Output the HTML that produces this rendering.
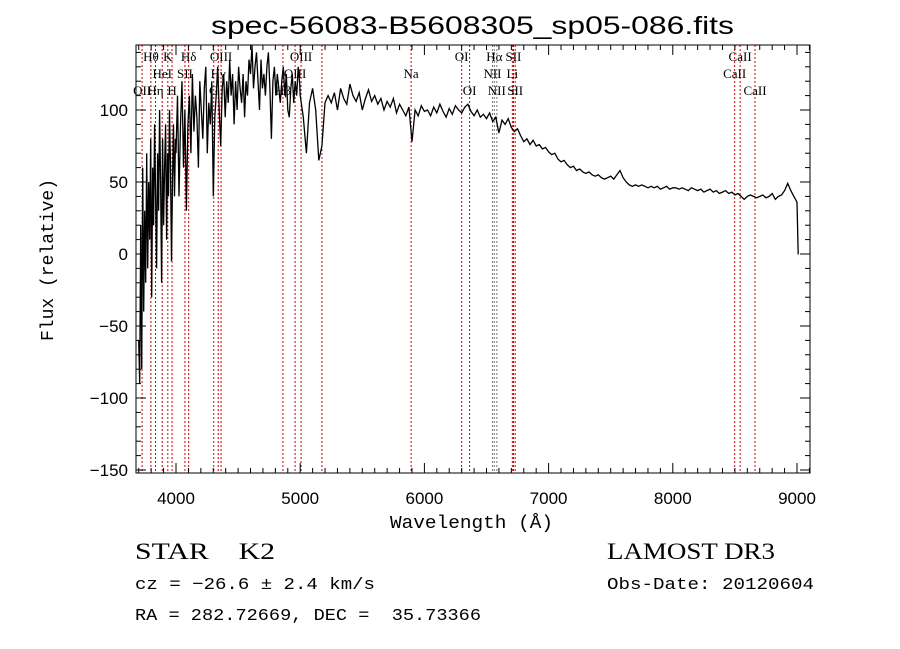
<!DOCTYPE html>
<html><head><meta charset="utf-8"><style>
html,body{margin:0;padding:0;background:#fff;width:900px;height:649px;overflow:hidden}
svg{display:block}
</style></head><body>
<svg id="chart" width="900" height="649" viewBox="0 0 900 649">
<text x="211" y="34" textLength="523" lengthAdjust="spacingAndGlyphs" font-family="Liberation Sans, sans-serif" font-size="25">spec-56083-B5608305_sp05-086.fits</text>
<g id="lines"></g>
<g id="labels" font-family="Liberation Serif, serif" font-size="13"></g>
<path id="spec" fill="none" stroke="#000" stroke-width="1.3"/>
<rect x="136" y="45" width="674" height="428" fill="none" stroke="#000" stroke-width="1"/>
<g id="ticks" stroke="#000" stroke-width="1"></g>
<g id="tlabels" font-family="Liberation Sans, sans-serif" font-size="17"></g>
<text x="390" y="528" textLength="163" lengthAdjust="spacingAndGlyphs" font-family="Liberation Mono, monospace" font-size="18">Wavelength (Å)</text>
<text transform="translate(53,260) rotate(-90)" text-anchor="middle" font-family="Liberation Mono, monospace" font-size="18">Flux (relative)</text>
<text x="135" y="559" textLength="140" lengthAdjust="spacingAndGlyphs" font-family="Liberation Serif, serif" font-size="23">STAR&#160;&#160;&#160;&#160;K2</text>
<text x="607" y="559" textLength="168" lengthAdjust="spacingAndGlyphs" font-family="Liberation Serif, serif" font-size="23">LAMOST DR3</text>
<text x="135" y="589" textLength="240" lengthAdjust="spacingAndGlyphs" font-family="Liberation Mono, monospace" font-size="17">cz = −26.6 ± 2.4 km/s</text>
<text x="607" y="589" textLength="207" lengthAdjust="spacingAndGlyphs" font-family="Liberation Mono, monospace" font-size="17">Obs-Date: 20120604</text>
<text x="135" y="620" textLength="346" lengthAdjust="spacingAndGlyphs" font-family="Liberation Mono, monospace" font-size="17" xml:space="preserve">RA = 282.72669, DEC =  35.73366</text>
</svg>
<script>
const segStarts=[3700,4000,5000,5225,6025,7025,8025];
const segSteps=[8,12,25,25,25,25,25];
const segFlux=[
[-60,-90,20,-80,60,-40,30,-20,70,-10,50,10,80,-30,60,20,90,40,-10,70,30,100,50,-20,80,20,60,90,10,70,40,100,60,-5,50,90,40,80],
[70,110,40,90,120,60,100,30,90,110,70,125,85,110,95,60,120,100,80,115,130,70,105,90,120,40,95,110,130,100,75,115,125,95,120,105,135,110,125,90,120,100,130,115,105,125,95,120,110,135,125,145,115,130,140,120,100,135,115,125,110,130,140,115,80,120,130,110,125,115,105,120,130,110,125,100,95,115,125,105,120,110,130,118],
[110,95,70,105,115,100,65,75,105],
[110,105,112,100,115,108,104,118,110,106,112,100,108,114,106,110,104,108,100,106,102,108,98,104,100,96,102,78,100,96,103,99],
[100,96,102,98,104,99,95,101,97,103,100,98,102,104,99,96,100,95,97,94,98,92,95,84,93,90,94,88,85,87,82,78,80,76,79,75,76,73,74,71],
[69,70,66,64,65,62,60,61,58,59,57,56,57,55,54,55,53,52,53,54,52,55,58,53,50,48,47,48,47,48,47,46,47,46,47,45,46,47,45,46],
[46,45,46,45,44,46,45,44,45,43,44,45,43,44,42,43,44,42,43,41,42,40,38,40,41,40,39,40,41,39,40,42,38,40,41,44,49,44,40,36]
];
const endWave=[9010,9012];
const endFlux=[0,0];
const lineWaves=[3727,3798,3835,3889,3934,3968,4072,4102,4304,4340,4363,4861,4959,5007,5175,5893,6300,6364,6548,6563,6583,6708,6717,6731,8498,8542,8662];
const labelText=["OII","Hθ","Hη","HeI","K","H","SII","Hδ","G","Hγ","OIII","Hβ","OIII","OIII","Mg","Na","OI","OI","NII","Hα","NII","Li","SII","SII","CaII","CaII","CaII"];
const labelRow=[2,0,2,1,0,2,1,0,2,1,0,2,1,0,-1,1,0,2,1,0,2,1,0,2,1,0,2];
const xTickVals=[4000,5000,6000,7000,8000,9000];
const yTickVals=[-150,-100,-50,0,50,100];
const NS='http://www.w3.org/2000/svg';
const X=w=>176+(w-4000)*0.1242;
const Y=f=>254-f*1.44;
const clipY=y=>Math.max(45,Math.min(473,y));
let pts=[];
segFlux.forEach((arr,i)=>arr.forEach((f,k)=>pts.push([segStarts[i]+segSteps[i]*k,f])));
endWave.forEach((w,i)=>pts.push([w,endFlux[i]]));
document.getElementById('spec').setAttribute('d',pts.map((p,i)=>(i?'L':'M')+X(p[0]).toFixed(1)+','+clipY(Y(p[1])).toFixed(1)).join(''));
const gL=document.getElementById('lines'),gT=document.getElementById('labels');
lineWaves.forEach((w,i)=>{
 const l=document.createElementNS(NS,'line');
 l.setAttribute('x1',X(w));l.setAttribute('x2',X(w));l.setAttribute('y1',45);l.setAttribute('y2',473);
 l.setAttribute('stroke',(w>6540&&w<6590)?'#777':'#c00');l.setAttribute('stroke-width',1);l.setAttribute('stroke-dasharray','2,2');
 
 
 gL.appendChild(l);
 if(labelRow[i]>=0){
  const t=document.createElementNS(NS,'text');
  t.setAttribute('x',X(w));t.setAttribute('y',61+labelRow[i]*17);t.setAttribute('text-anchor','middle');
  t.textContent=labelText[i];
  
  
  gT.appendChild(t);
 }
});
const gk=document.getElementById('ticks'),gl=document.getElementById('tlabels');
function ln(x1,y1,x2,y2){const l=document.createElementNS(NS,'line');l.setAttribute('x1',x1);l.setAttribute('y1',y1);l.setAttribute('x2',x2);l.setAttribute('y2',y2);gk.appendChild(l);}
for(let w=3700;w<=9100;w+=100){const x=X(w);const len=(w%1000===0)?10:5;ln(x,473,x,473-len);ln(x,45,x,45+len);}
for(let f=-150;f<=140;f+=10){const y=Y(f);const len=(f%50===0)?10:5;ln(136,y,136+len,y);ln(810,y,810-len,y);}
xTickVals.forEach(w=>{const t=document.createElementNS(NS,'text');t.setAttribute('x',X(w));t.setAttribute('y',504);t.setAttribute('text-anchor','middle');t.textContent=w;


gl.appendChild(t);});
yTickVals.forEach(f=>{const t=document.createElementNS(NS,'text');t.setAttribute('x',128);t.setAttribute('y',Y(f)+6);t.setAttribute('text-anchor','end');t.textContent=f<0?'−'+(-f):f;


gl.appendChild(t);});
</script>
</body></html>
